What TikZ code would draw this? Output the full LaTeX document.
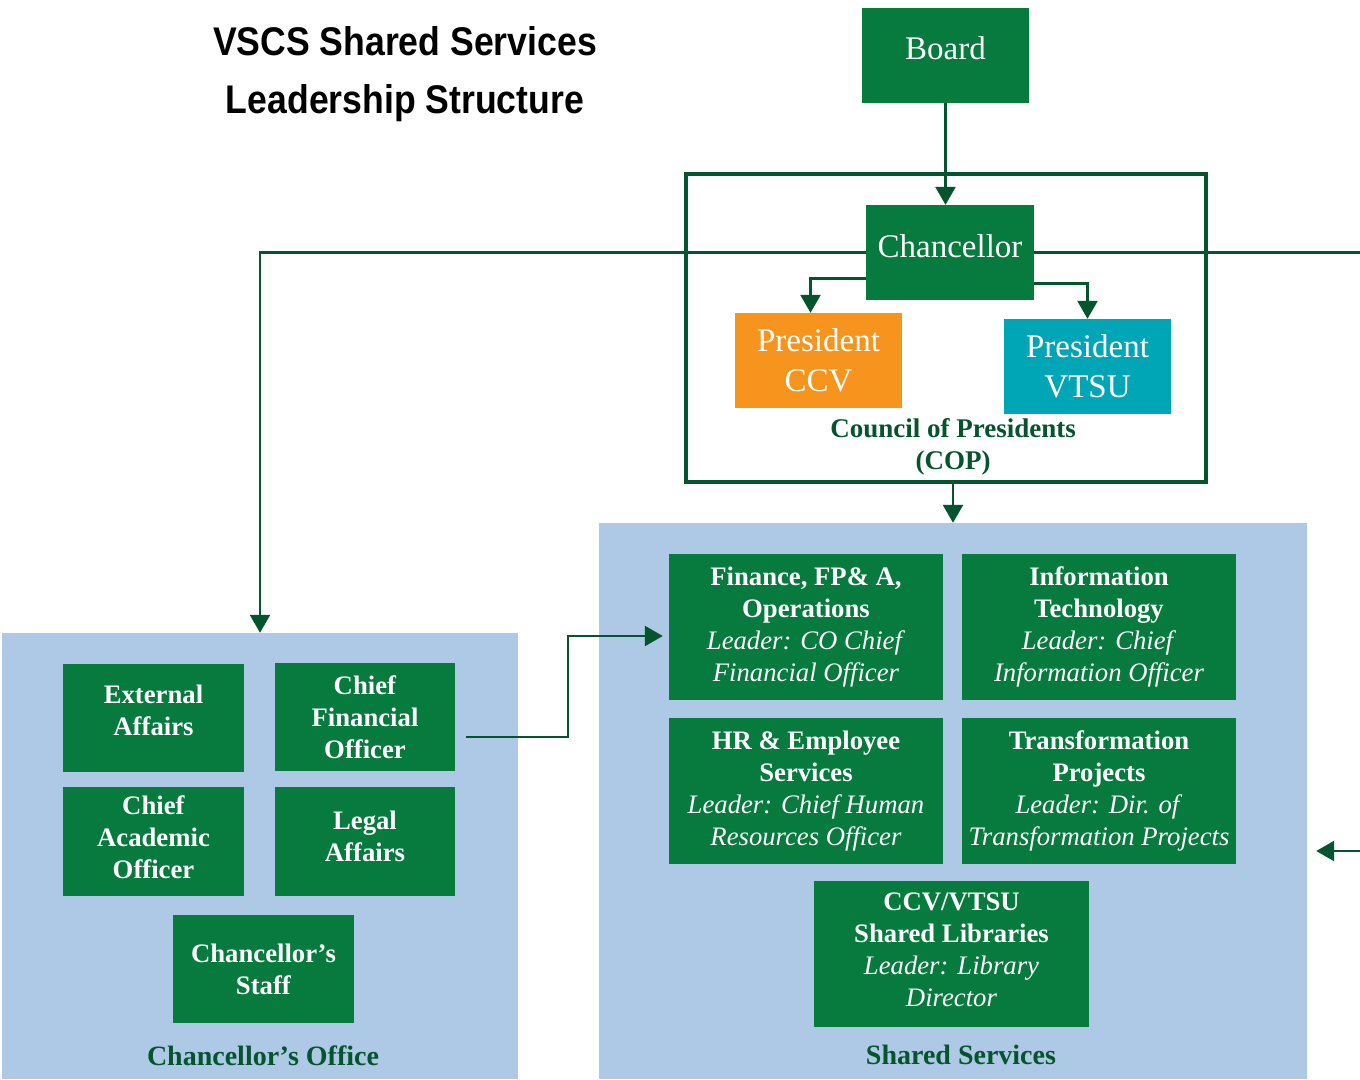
\documentclass[tikz,border=0pt]{standalone}
\usepackage{fontspec}
\setmainfont{Liberation Serif}
\newfontfamily\titlefont[FakeStretch=0.89]{Liberation Sans}
\usetikzlibrary{arrows.meta,calc}
\definecolor{boxgreen}{RGB}{7,122,61}
\definecolor{linegreen}{RGB}{4,85,45}
\definecolor{ccvorange}{RGB}{247,148,30}
\definecolor{vtsuteal}{RGB}{0,166,182}
\definecolor{panelblue}{RGB}{173,201,229}
\begin{document}
\begin{tikzpicture}[x=1pt,y=-1pt,
 gtext/.style={text=white, inner sep=0pt, align=center, font=\fontsize{26.7}{32}\selectfont},
 gbox/.style={fill=boxgreen, inner sep=0pt},
 bigtext/.style={inner sep=0pt, text=white, align=center, font=\fontsize{33}{40}\selectfont},
 bigbox/.style={inner sep=0pt, minimum width=167pt, minimum height=95pt},
 panel/.style={fill=panelblue, inner sep=0pt},
 lbl/.style={text=linegreen, font=\bfseries\fontsize{28}{32}\selectfont, align=center},
 arr/.style={draw=linegreen, line width=2.5pt, -{Triangle[width=20pt,length=18pt]}},
 conn/.style={draw=linegreen, line width=2.5pt}]
\useasboundingbox (0,0) rectangle (1360,1079);
\fill[white] (0,0) rectangle (1360,1079);

% title
\node[align=center, font=\titlefont\bfseries\fontsize{40}{58}\selectfont] (title) at (405,74) {VSCS Shared Services\\Leadership Structure};

% panels
\node[panel, minimum width=708pt, minimum height=556pt] (ss) at (953,801) {};
\node[panel, minimum width=516pt, minimum height=446pt] (co) at (260,856) {};

% COP frame
\node[draw=linegreen, line width=4pt, minimum width=520pt, minimum height=308pt, inner sep=0pt] (cop) at (946,328) {};

% top nodes
\node[bigbox, fill=boxgreen, label={[bigtext, yshift=7pt]center:Board}] (board) at (945.5,55) {};
\node[bigbox, fill=boxgreen, minimum width=168pt, label={[bigtext, yshift=6pt]center:Chancellor}] (chan) at (950,252.5) {};
\node[bigbox, bigtext, fill=ccvorange] (ccv) at (818.5,360.5) {President\\CCV};
\node[bigbox, bigtext, fill=vtsuteal] (vtsu) at (1087.5,366.5) {President\\VTSU};
\node[lbl, font=\bfseries\fontsize{27}{32}\selectfont] (coplbl) at (953,447) {Council of Presidents\\(COP)};

% chancellor's office boxes
\node[gbox, minimum width=181pt, minimum height=108pt, label={[gtext, yshift=8pt]center:{\textbf{External}\\\textbf{Affairs}}}] (ext) at (153.5,718) {};
\node[gbox, gtext, minimum width=180pt, minimum height=108pt] (cfo) at (365,717) {\textbf{Chief}\\\textbf{Financial}\\\textbf{Officer}};
\node[gbox, minimum width=181pt, minimum height=109pt, label={[gtext, yshift=4pt]center:{\textbf{Chief}\\\textbf{Academic}\\\textbf{Officer}}}] (cao) at (153.5,841.5) {};
\node[gbox, minimum width=180pt, minimum height=109pt, label={[gtext, yshift=5pt]center:{\textbf{Legal}\\\textbf{Affairs}}}] (legal) at (365,841.5) {};
\node[gbox, gtext, minimum width=181pt, minimum height=108pt] (staff) at (263.5,969) {\textbf{Chancellor’s}\\\textbf{Staff}};
\node[lbl] (colbl) at (263,1056) {Chancellor’s Office};

% shared services boxes
\node[gbox, gtext, minimum width=274pt, minimum height=146pt] (fin) at (806,627) {\textbf{Finance, FP\& A,}\\\textbf{Operations}\\\textit{Leader: CO Chief}\\\textit{Financial Officer}};
\node[gbox, gtext, minimum width=274pt, minimum height=146pt] (it) at (1099,627) {\textbf{Information}\\\textbf{Technology}\\\textit{Leader: Chief}\\\textit{Information Officer}};
\node[gbox, gtext, minimum width=274pt, minimum height=146pt] (hr) at (806,791) {\textbf{HR \& Employee}\\\textbf{Services}\\\textit{Leader: Chief Human}\\\textit{Resources Officer}};
\node[gbox, gtext, minimum width=274pt, minimum height=146pt] (tr) at (1099,791) {\textbf{Transformation}\\\textbf{Projects}\\\textit{Leader: Dir. of}\\\textit{Transformation Projects}};
\node[gbox, minimum width=275pt, minimum height=146pt, label={[gtext, yshift=4pt]center:{\textbf{CCV/VTSU}\\\textbf{Shared Libraries}\\\textit{Leader: Library}\\\textit{Director}}}] (lib) at (951.5,954) {};
\node[lbl] (sslbl) at (961,1055) {Shared Services};

% connectors
\draw[arr] (board.south) -- (board.south |- chan.north);
\draw[arr] (chan.west) -| (co.north);
\coordinate (r1) at (1360,252.5);
\coordinate (r2) at (1360,851);
\draw[conn] (chan.east) -- (r1);
\draw[arr, shorten >=9pt] (r2) -- (r2 -| ss.east);
\draw[arr] ($(chan.west)+(0,26)$) -| ($(ccv.north)+(-8,0)$);
\draw[arr] ($(chan.east)+(0,31)$) -| (vtsu.north);
\draw[arr] (cop.south -| ss.north) -- (ss.north);
\coordinate (bend) at (568,636);
\draw[arr, shorten >=6pt] ($(cfo.east)+(11,20)$) -| (bend) -- (bend -| fin.west);
\end{tikzpicture}
\end{document}
